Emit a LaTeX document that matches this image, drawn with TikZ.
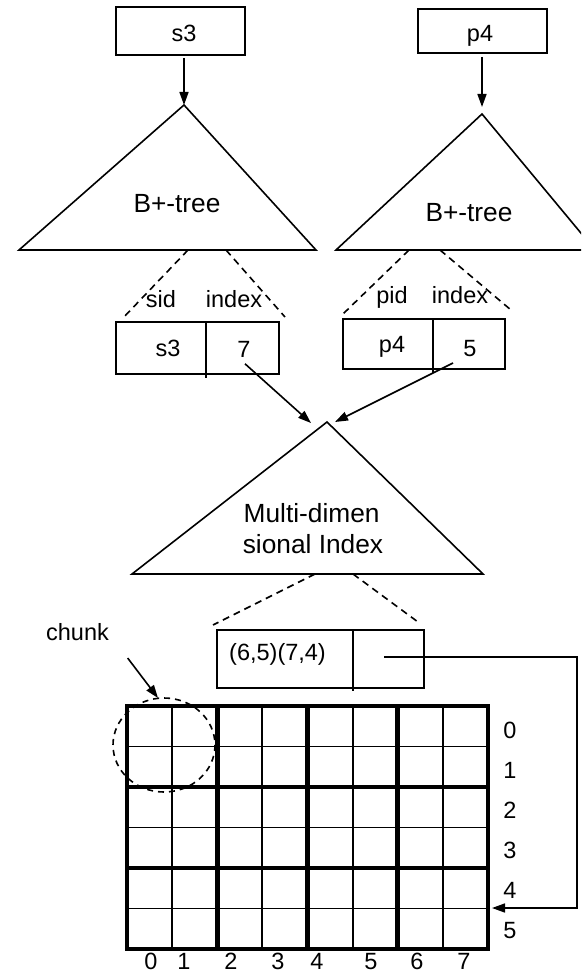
\documentclass[tikz,border=0pt]{standalone}
\usepackage{fontspec}
\setmainfont{Liberation Sans}
\usetikzlibrary{arrows.meta, positioning}

\begin{document}
\begin{tikzpicture}[x=1pt, y=-1pt,
  font=\fontsize{23.5}{28}\selectfont,
  line width=1.6pt,
  box/.style={draw, rectangle, inner sep=0pt, outer sep=0pt},
  lbl/.style={anchor=base, inner sep=0pt},
  big/.style={lbl, font=\fontsize{26.3}{31}\selectfont},
  tree/.style={draw, line join=miter},
  leaf/.style={dash pattern=on 7pt off 5pt},
  arr/.style={-{Triangle[length=13pt,width=9pt]}},
  gridthin/.style={line width=1.8pt},
  gridthick/.style={line width=4.8pt}]
  \useasboundingbox (0,0) rectangle (581,973);
  \clip (0,0) rectangle (581,973);

  % search keys
  \node[box, minimum width=129pt, minimum height=48pt] (qs) at (180.5,31) {};
  \node[lbl] (qstxt) at (184,42) {s3};
  \node[box, minimum width=129pt, minimum height=44pt] (qp) at (482.5,31) {};
  \node[lbl] (qptxt) at (480,42) {p4};

  % B+-trees
  \coordinate (bt1) at (184,105);
  \coordinate (bt2) at (482,114);
  \draw[tree] (19,250) -- (bt1) -- (316,250) -- cycle;
  \draw[tree] (336,250) -- (bt2) -- (595,250) -- cycle;
  \node[big] (bt1txt) at (177,213) {B+-tree};
  \node[big] (bt2txt) at (469,222) {B+-tree};
  \draw[arr] (bt1 |- qs.south) ++(0,3) -- (bt1);
  \draw[arr, shorten >=7pt] (bt2 |- qp.south) ++(0,4) -- (bt2);

  % leaf entries
  \draw[leaf] (188,250) -- (123,318);
  \draw[leaf] (226,250) -- (285,317);
  \node[lbl] (sid) at (161,307) {sid};
  \node[lbl] (sidx) at (234,307) {index};
  \node[box, minimum width=163pt, minimum height=52pt] (sleaf) at (197.5,348) {};
  \draw (206,322) -- (206,378);
  \node[lbl] (skey) at (168,356) {s3};
  \node[lbl] (sval) at (244,357) {7};

  \draw[leaf] (409,250) -- (343,314);
  \draw[leaf] (440,250) -- (511,310);
  \node[lbl] (pid) at (392,303) {pid};
  \node[lbl] (pidx) at (460,303) {index};
  \node[box, minimum width=162pt, minimum height=50pt] (pleaf) at (424,344) {};
  \draw (433,319) -- (433,373);
  \node[lbl] (pkey) at (392,352) {p4};
  \node[lbl] (pval) at (470,356) {5};

  % multi-dimensional index
  \coordinate (md) at (327,422);
  \draw[tree] (132,574) -- (md) -- (483,574) -- cycle;
  \node[big] (mdtxt1) at (311.6,522) {Multi-dimen};
  \node[big] (mdtxt2) at (313,553) {sional Index};
  \coordinate (mdin1) at (311,423);
  \coordinate (mdin2) at (335,422);
  \coordinate (from5) at (453,363);
  \draw[arr] (sval.south) ++(1,6) -- (mdin1);
  \draw[arr] (from5) -- (mdin2);

  \draw[leaf] (315,574) -- (213,625);
  \draw[leaf] (353,574) -- (418,622);
  \node[box, minimum width=207pt, minimum height=58pt] (mleaf) at (320.5,659) {};
  \draw (353,630) -- (353,691);
  \node[lbl] (mkey) at (277.5,660) {(6,5)(7,4)};
  \coordinate (ptr) at (384,657);
  \coordinate (gridend) at (492,908);
  \draw[arr] (ptr) -- (577,657) |- (gridend);

  % chunked array
  \foreach \i in {1,3,5,7}
    \draw[gridthin] (127+\i*45.125,706) -- ++(0,243);
  \foreach \j in {1,3,5}
    \draw[gridthin] (127,706+\j*40.5) -- ++(361,0);
  \foreach \i in {2,4,6}
    \draw[gridthick] (127+\i*45.125,706) -- ++(0,243);
  \foreach \j in {2,4}
    \draw[gridthick] (127,706+\j*40.5) -- ++(361,0);
  \draw[gridthick] (127,706) rectangle (488,949);

  \foreach \r in {0,...,5}
    \node[lbl] (row\r) at (510,738+\r*40) {\r};
  \foreach \c/\cx in {0/151,1/184,2/231,3/278,4/317,5/371,6/417,7/464}
    \node[lbl] (col\c) at (\cx,969) {\c};

  % chunk
  \coordinate (chk) at (164,745);
  \draw[leaf, dash pattern=on 6pt off 5pt] (chk) ellipse [x radius=51, y radius=47];
  \node[lbl] (chunk) at (77.5,640) {chunk};
  \coordinate (chunktip) at (158,698);
  \draw[arr] (chunk.south east) ++(18,17) -- (chunktip);
\end{tikzpicture}
\end{document}
